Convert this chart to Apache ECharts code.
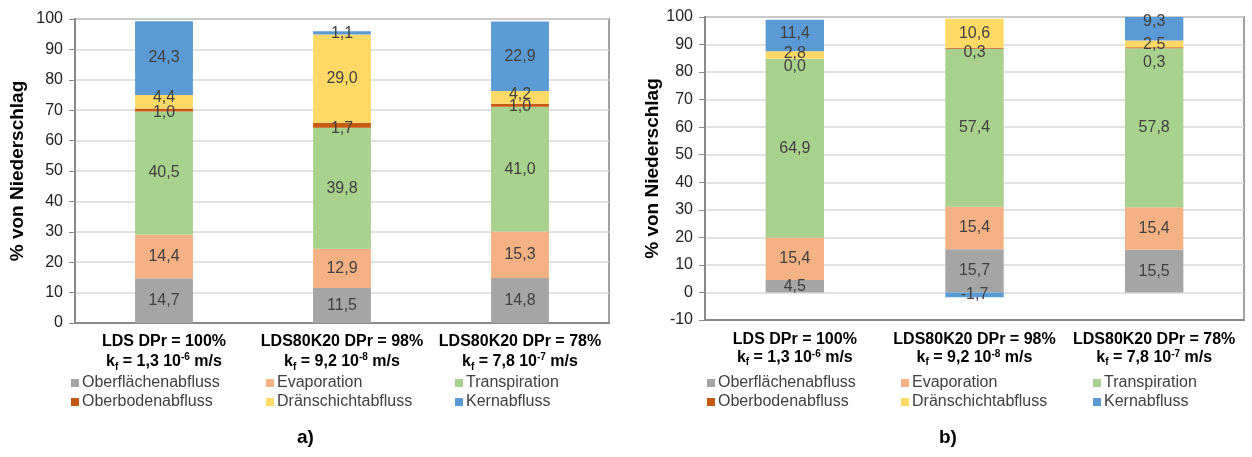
<!DOCTYPE html>
<html>
<head>
<meta charset="utf-8">
<script src="https://cdn.jsdelivr.net/npm/echarts@6/dist/echarts.min.js"></script>
<style>
html,body{margin:0;padding:0;background:#fff;}
#chart{width:1252px;height:457px;}
</style>
</head>
<body>
<div id="chart"></div>
<script>
// ---------- data ----------
const categories = ['LDS DPr = 100%', 'LDS80K20 DPr = 98%', 'LDS80K20 DPr = 78%'];
const kfMantissa = ['1,3', '9,2', '7,8'];
const kfExponent = ['-6', '-8', '-7'];
const seriesNames = ['Oberflächenabfluss', 'Evaporation', 'Transpiration', 'Oberbodenabfluss', 'Dränschichtabfluss', 'Kernabfluss'];
const yTicksA = [0, 10, 20, 30, 40, 50, 60, 70, 80, 90, 100];
const yTicksB = [-10, 0, 10, 20, 30, 40, 50, 60, 70, 80, 90, 100];

// chart a)
const oberflaecheA = [14.7, 11.5, 14.8];
const evaporationA = [14.4, 12.9, 15.3];
const transpirationA = [40.5, 39.8, 41.0];
const oberbodenA = [1.0, 1.7, 1.0];
const draenA = [4.4, 29.0, 4.2];
const kernA = [24.3, 1.1, 22.9];

// chart b)
const oberflaecheB = [4.5, 15.7, 15.5];
const evaporationB = [15.4, 15.4, 15.4];
const transpirationB = [64.9, 57.4, 57.8];
const oberbodenB = [0.0, 0.3, 0.3];
const draenB = [2.8, 10.6, 2.5];
const kernB = [11.4, -1.7, 9.3];

// ---------- styling ----------
const colors = ['#a5a5a5', '#f4b183', '#a9d18e', '#c55a11', '#ffd966', '#5b9bd5'];
const FONT = '"Liberation Sans", Arial, sans-serif';
// per-point label nudges (px) to mimic the reference label placement
const labelNudgeA = [[0,0,0],[0,0,0],[0,0,0],[3,3,1],[-4,0,-3],[0,1,0]];
const labelNudgeB = [[0,0,0],[0,0,0],[0,0,0],[8,4,15],[-1,0,1],[-2,0,-7]];

const dataA = [oberflaecheA, evaporationA, transpirationA, oberbodenA, draenA, kernA];
const dataB = [oberflaecheB, evaporationB, transpirationB, oberbodenB, draenB, kernB];

function fmt(v) { return v.toFixed(1).replace('.', ','); }

function buildSeries(dataSets, nudges, gridIdx, stackName) {
  return dataSets.map((arr, si) => ({
    name: seriesNames[si],
    type: 'bar',
    stack: stackName,
    xAxisIndex: gridIdx,
    yAxisIndex: gridIdx,
    barWidth: '32.5%',
    itemStyle: { color: colors[si] },
    label: {
      show: true,
      position: 'inside',
      color: '#404040',
      fontSize: 16,
      fontFamily: FONT,
      formatter: p => fmt(p.value)
    },
    data: arr.map((v, i) => ({ value: v, label: { offset: [0, nudges[si][i]] } }))
  }));
}

const axisColor = '#898989';
function richX(lh) {
  return {
    b:   { fontFamily: FONT, fontWeight: 'bold', fontSize: 16, lineHeight: lh, color: '#000' },
    sub: { fontFamily: FONT, fontWeight: 'bold', fontSize: 10, lineHeight: lh, color: '#000', verticalAlign: 'bottom' },
    sup: { fontFamily: FONT, fontWeight: 'bold', fontSize: 10, lineHeight: lh, color: '#000', verticalAlign: 'top' }
  };
}
function xLabel(v, i) {
  return '{b|' + v + '}\n{b|k}{sub|f}{b| = ' + kfMantissa[i] + ' 10}{sup|' + kfExponent[i] + '}{b| m/s}';
}

function xAxisCfg(gridIdx, margin, lh) {
  return {
    type: 'category',
    gridIndex: gridIdx,
    data: categories,
    axisLine: { onZero: false, lineStyle: { color: axisColor, width: 2 } },
    axisTick: { show: false },
    axisLabel: { interval: 0, margin: margin, formatter: xLabel, rich: richX(lh) }
  };
}
function yAxisCfg(gridIdx, ticks, gap) {
  return {
    type: 'value',
    gridIndex: gridIdx,
    min: ticks[0],
    max: ticks[ticks.length - 1],
    interval: ticks[1] - ticks[0],
    name: '% von Niederschlag',
    nameLocation: 'middle',
    nameGap: gap,
    nameTextStyle: { fontFamily: FONT, fontWeight: 'bold', fontSize: 19, color: '#000' },
    axisLine: { show: true, lineStyle: { color: axisColor, width: 2 } },
    axisTick: { show: true, length: 6, lineStyle: { color: axisColor } },
    axisLabel: { fontFamily: FONT, fontSize: 16, color: '#222', margin: 12 },
    splitLine: { lineStyle: { color: '#d9d9d9', width: 1.5 } }
  };
}

const legendCols = { a: [71, 266, 455], b: [707, 901, 1093] };
const legendRows = [375, 394];
const legends = [];
['a', 'b'].forEach(k => {
  seriesNames.forEach((n, i) => {
    legends.push({
      data: [n],
      left: legendCols[k][i % 3],
      top: legendRows[Math.floor(i / 3)],
      padding: 0,
      itemWidth: 8,
      itemHeight: 8,
      icon: 'rect',
      selectedMode: false,
      textStyle: { fontFamily: FONT, fontSize: 16, color: '#404040', padding: [0, 0, 0, -2] }
    });
  });
});

const option = {
  animation: false,
  backgroundColor: '#fff',
  title: [
    { text: 'a)', left: 297, top: 428, padding: 0, textStyle: { fontFamily: FONT, fontWeight: 'bold', fontSize: 19, color: '#000' } },
    { text: 'b)', left: 939, top: 428, padding: 0, textStyle: { fontFamily: FONT, fontWeight: 'bold', fontSize: 19, color: '#000' } }
  ],
  legend: legends,
  grid: [
    { left: 75, top: 19, width: 534, height: 304, show: true, borderColor: '#a0a0a0', borderWidth: 2, backgroundColor: 'transparent' },
    { left: 705, top: 17, width: 539, height: 303, show: true, borderColor: '#a0a0a0', borderWidth: 2, backgroundColor: 'transparent' }
  ],
  xAxis: [xAxisCfg(0, 9, 20), xAxisCfg(1, 11, 18)],
  yAxis: [yAxisCfg(0, yTicksA, 48), yAxisCfg(1, yTicksB, 41)],
  series: buildSeries(dataA, labelNudgeA, 0, 'a').concat(buildSeries(dataB, labelNudgeB, 1, 'b'))
};

const chart = echarts.init(document.getElementById('chart'));
chart.setOption(option);
</script>
</body>
</html>
